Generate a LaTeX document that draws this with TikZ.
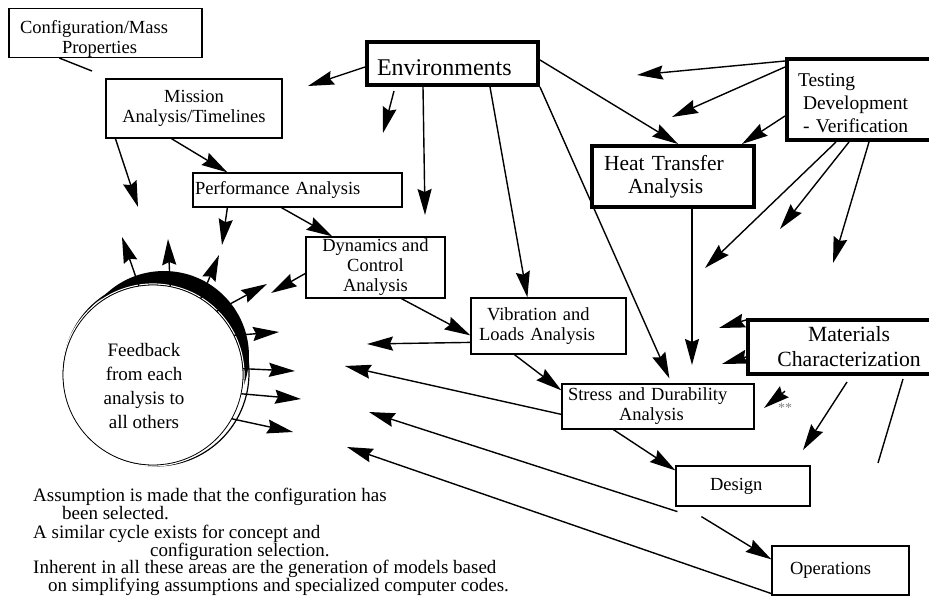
\documentclass[tikz,border=0pt]{standalone}
\usepackage{fontspec}
\setmainfont{Liberation Serif}
\usetikzlibrary{arrows.meta}
\tikzset{
  arr/.style={-{Stealth[length=26pt,width=14pt,inset=3pt]}, line width=1.4pt},
  box/.style={draw, line width=1.2pt, inner sep=0pt, align=center, font=\fontsize{18.5}{20}\selectfont},
  heavy/.style={box, line width=4pt},
  note/.style={anchor=north west, inner sep=0pt, align=left},
}
\newcommand\tightlines[1]{\fontsize{19}{#1}\selectfont\lineskiplimit-50pt\relax}

\begin{document}
\begin{tikzpicture}[x=1pt,y=-1pt]
\useasboundingbox (0,0) rectangle (929,596);

\fill[black] (164,356) circle (85pt);
\draw[line width=1.2pt] (156,373) circle (93pt);
\draw[white, line width=1.2pt] (153,375) circle (91pt);
\node[circle, draw, line width=0.8pt, fill=white, minimum size=180pt, inner sep=0pt,
  label={[align=center, font=\fontsize{19}{24}\selectfont, xshift=-9pt, yshift=-11pt]center:Feedback\\from each\\analysis to\\all others}] (fb) at (153,375) {};

\node[box, minimum width=193pt, minimum height=46pt, text width=171pt, inner xsep=11pt, align=left] (cfg) at (105.5,33) {\rule{0pt}{25pt}Configuration/Mass\\\hspace*{42pt}Properties};
\node[box, minimum width=176pt, minimum height=59pt] (mis) at (194,108.5) {Mission\\Analysis/Timelines};
\node[box, minimum width=209pt, minimum height=34pt, text width=205pt, inner xsep=2pt, align=left] (perf) at (297.5,190) {Performance Analysis};
\node[box, minimum width=139pt, minimum height=61pt] (dyn) at (375.5,267.5) {Dynamics and\\Control\\Analysis};
\node[box, minimum width=155pt, minimum height=56pt, text width=139pt, inner xsep=8pt, align=left] (vib) at (548.5,326) {\hspace*{8pt}Vibration and\\Loads Analysis};
\node[box, minimum width=192pt, minimum height=45pt, text width=180pt, inner xsep=6pt, align=left] (str) at (658,406.5) {Stress and Durability\\\hspace*{51pt}Analysis};
\node[box, minimum width=134pt, minimum height=40pt, text width=66pt, inner xsep=34pt, align=left] (des) at (743,486) {Design};
\node[box, minimum width=137pt, minimum height=49pt, text width=101pt, inner xsep=18pt, align=left] (ops) at (840.5,570.5) {Operations};

\node[heavy, minimum width=171pt, minimum height=43pt, text width=151pt, inner xsep=10pt, align=left, font=\fontsize{24}{26}\selectfont] (env) at (452.5,63.5) {\rule{0pt}{24.5pt}Environments};
\node[heavy, minimum width=148pt, minimum height=81pt, text width=126pt, inner xsep=11pt, align=left, font=\fontsize{19.5}{23}\selectfont] (tst) at (861,99.5) {\rule{0pt}{21pt}Testing\\\hspace*{5pt}Development\\\hspace*{5pt}- Verification};
\node[heavy, minimum width=162pt, minimum height=61pt, text width=138pt, inner xsep=12pt, align=left, font=\fontsize{21.5}{23}\selectfont] (htr) at (673,176.5) {Heat Transfer\\\hspace*{24pt}Analysis};
\node[heavy, minimum width=202pt, minimum height=54pt, font=\fontsize{21.7}{25}\selectfont] (mat) at (849,347) {Materials\\Characterization};

\node[inner sep=0pt, text=gray, font=\fontsize{14}{14}\selectfont] (stars) at (785,408) {**};

\node[note, font=\tightlines{18}] (noteA) at (33,488) {Assumption is made that the configuration has\\\hspace*{29pt}been selected.};
\node[note, font=\tightlines{17.5}] (noteB) at (33,525) {A similar cycle exists for concept and\\\hspace*{117pt}configuration selection.};
\node[note, font=\tightlines{17.5}] (noteC) at (33,560) {Inherent in all these areas are the generation of models based\\\hspace*{15pt}on simplifying assumptions and specialized computer codes.};

\coordinate (cfgEnd) at (92,71);
\coordinate (misOut) at (138,207);
\coordinate (perfOut) at (222,245);
\coordinate (dynOut) at (271,293);
\coordinate (vibOut) at (367,344);
\coordinate (strOut) at (345,366);
\coordinate (desOut) at (369,412);
\coordinate (opsOut) at (347,447);
\coordinate (envOutA) at (308,86);
\coordinate (envOutB) at (383,133);
\coordinate (envOutC) at (425,215);
\coordinate (tstOutA) at (637,75);
\coordinate (tstOutB) at (672,117);
\coordinate (tstOutC) at (705,268);
\coordinate (tstOutD) at (780,229);
\coordinate (tstOutE) at (833,263);
\coordinate (htrOut) at (692,365);
\coordinate (matOutA) at (719,328);
\coordinate (matOutB) at (722,364);
\coordinate (matOutC) at (803,450);
\coordinate (matEnd) at (878,463);
\coordinate (starTip) at (764,408);

\foreach \i/\a/\x/\y in {1/99/122/237, 2/79/168/239, 3/58/219/255, 4/45/267/284, 5/26/279/332, 6/4/295/371, 7/-12/301/399, 8/-29/293/432}
{
  \coordinate (fbOut\i) at (\x,\y);
  \draw[arr] (fb.\a) -- (fbOut\i);
}

\draw[line width=1.4pt] ([xshift=51pt]cfg.south west) -- (cfgEnd);
\draw[arr] ([xshift=10pt]mis.south west) -- (misOut);
\draw[arr] ([xshift=66pt]mis.south west) -- ([xshift=35pt]perf.north west);
\draw[arr] ([xshift=35pt]perf.south west) -- (perfOut);
\draw[arr] ([xshift=89pt]perf.south west) -- ([xshift=27pt]dyn.north west);
\draw[arr] ([yshift=-37pt]dyn.north west) -- (dynOut);
\draw[arr] ([xshift=96pt]dyn.south west) -- ([yshift=-38pt]vib.north west);
\draw[arr] ([yshift=-45pt]vib.north west) -- (vibOut);
\draw[arr] ([xshift=44pt]vib.south west) -- ([yshift=-7pt]str.north west);
\draw[arr] ([yshift=-31pt]str.north west) -- (strOut);
\draw[arr] ([xshift=52pt]str.south west) -- ([yshift=-5pt]des.north west);
\draw[arr] ([xshift=2pt,yshift=-5pt]des.south west) -- (desOut);
\draw[arr] ([xshift=26pt,yshift=-10pt]des.south west) -- ([yshift=-14pt]ops.north west);
\draw[arr] ([yshift=2pt]ops.south west) -- (opsOut);

\draw[arr] ([yshift=-27pt]env.north west) -- (envOutA);
\draw[arr] ([xshift=29pt,yshift=-4pt]env.south west) -- (envOutB);
\draw[arr] ([xshift=58pt]env.south west) -- (envOutC);
\draw[arr] ([xshift=125pt]env.south west) -- ([xshift=57pt]vib.north west);
\draw[arr] (env.south east) -- ([xshift=108pt,yshift=5pt]str.north west);
\draw[arr] ([yshift=-20pt]env.north east) -- ([xshift=88pt]htr.north west);

\draw[arr] ([yshift=-4pt]tst.north west) -- (tstOutA);
\draw[arr] ([yshift=-10pt]tst.north west) -- (tstOutB);
\draw[arr] ([yshift=-59pt]tst.north west) -- ([xshift=-14pt]htr.north east);
\draw[arr] ([xshift=51pt]tst.south west) -- (tstOutC);
\draw[arr] ([xshift=64pt]tst.south west) -- (tstOutD);
\draw[arr] ([xshift=84pt]tst.south west) -- (tstOutE);

\draw[arr] ([xshift=19pt]htr.south) -- (htrOut);

\draw[arr] ([yshift=-2pt]mat.north west) -- (matOutA);
\draw[arr] ([yshift=-39pt]mat.north west) -- (matOutB);
\draw[arr] ([xshift=101pt,yshift=-6pt]mat.south west) -- (matOutC);
\draw[line width=1.4pt] ([xshift=157pt,yshift=-3pt]mat.south west) -- (matEnd);
\draw[arr] ([yshift=12pt]stars.north) -- (starTip);
\end{tikzpicture}
\end{document}
